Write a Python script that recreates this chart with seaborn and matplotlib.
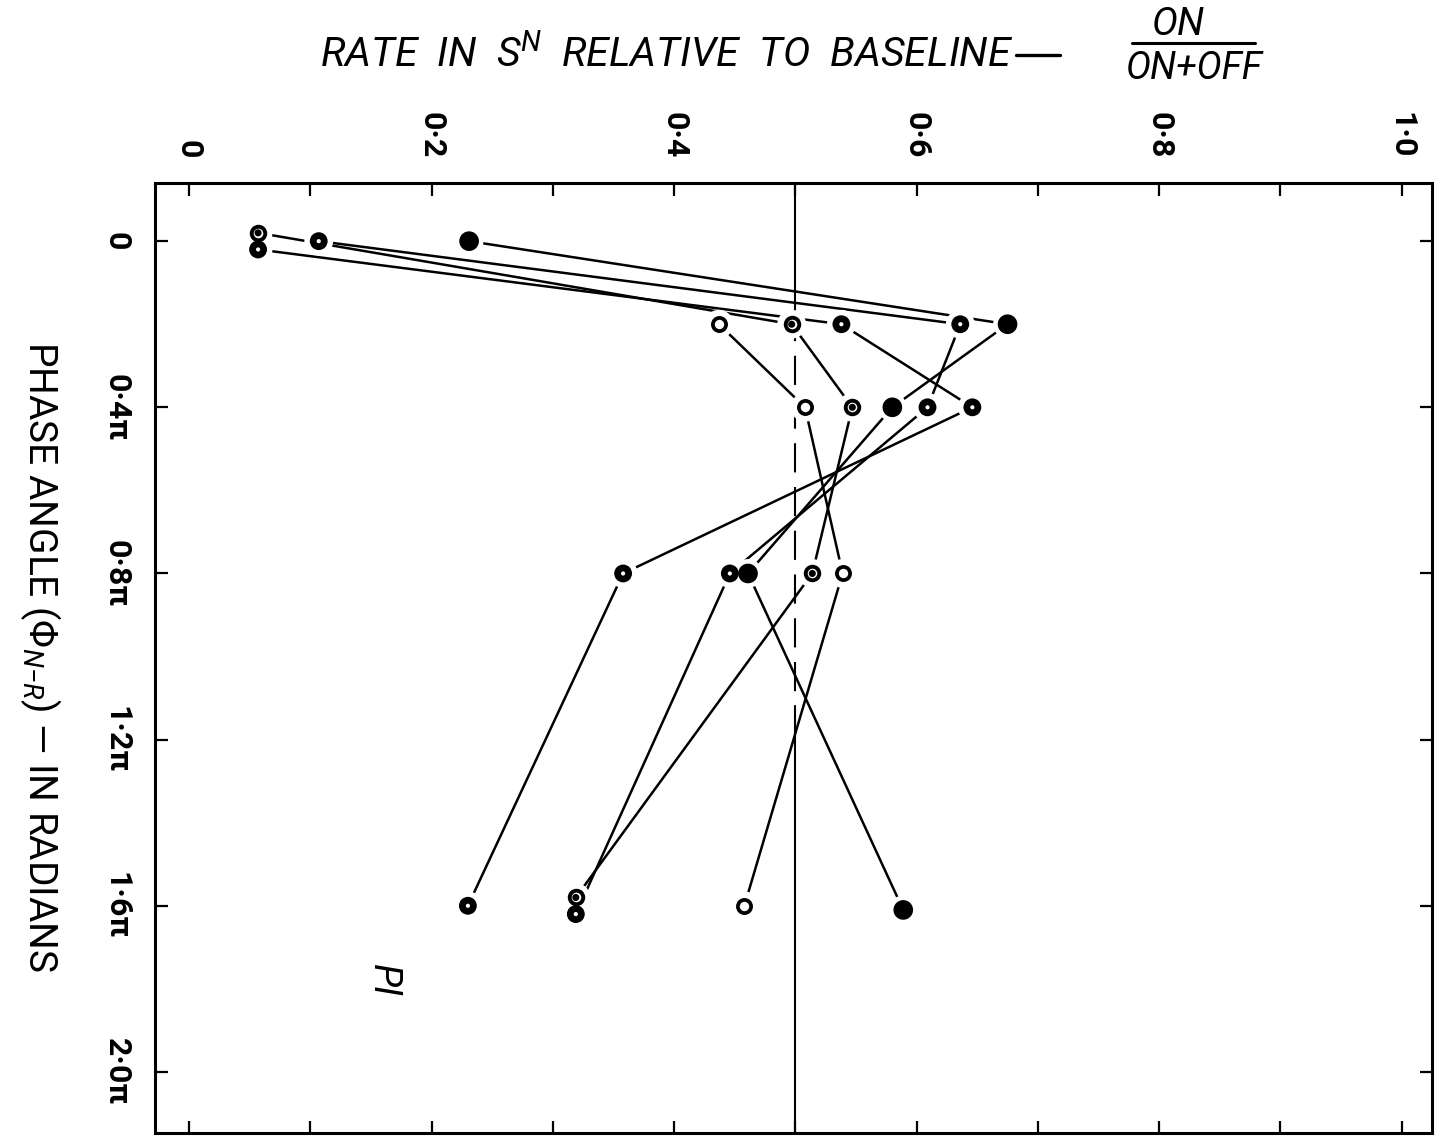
"""
Rate in S^N relative to baseline vs. N-R phase angle (rotated plate, PI).
"""

import numpy as np
import pandas as pd
import matplotlib
matplotlib.use("Agg")
import matplotlib.pyplot as plt
from matplotlib.lines import Line2D
import seaborn as sns

sns.set_theme(style="white")
plt.rcParams["font.family"] = ["Roboto", "DejaVu Sans"]
plt.rcParams["mathtext.fontset"] = "custom"
plt.rcParams["mathtext.rm"] = "Roboto"
plt.rcParams["mathtext.it"] = "Roboto:italic"
plt.rcParams["text.color"] = "black"
plt.rcParams["xtick.color"] = "black"
plt.rcParams["ytick.color"] = "black"

# ---- data (rate = ON / (ON + OFF), phase in units of pi)
phase_ring_dot = [-0.02, 0.2, 0.4, 0.8, 1.58]
rate_ring_dot = [0.057, 0.497, 0.547, 0.514, 0.319]

phase_black_dot_a = [0.02, 0.2, 0.4, 0.8, 1.6]
rate_black_dot_a = [0.057, 0.538, 0.646, 0.358, 0.230]

phase_black_dot_b = [0.0, 0.2, 0.4, 0.8, 1.62]
rate_black_dot_b = [0.107, 0.636, 0.609, 0.446, 0.319]

phase_filled = [0.0, 0.2, 0.4, 0.8, 1.61]
rate_filled = [0.231, 0.675, 0.580, 0.461, 0.589]

phase_open = [0.2, 0.4, 0.8, 1.6]
rate_open = [0.437, 0.508, 0.539, 0.458]

baseline_rate = 0.5

rate_ticks = [0.0, 0.2, 0.4, 0.6, 0.8, 1.0]
rate_minor = [0.1, 0.3, 0.5, 0.7, 0.9]
rate_tick_labels = ["0", "0·2", "0·4", "0·6", "0·8", "1·0"]
phase_ticks = [0.0, 0.4, 0.8, 1.2, 1.6, 2.0]
phase_tick_labels = ["0", "0·4π", "0·8π", "1·2π", "1·6π", "2·0π"]

series = {
    "ring_dot": (phase_ring_dot, rate_ring_dot),
    "black_dot_a": (phase_black_dot_a, rate_black_dot_a),
    "black_dot_b": (phase_black_dot_b, rate_black_dot_b),
    "filled": (phase_filled, rate_filled),
    "open": (phase_open, rate_open),
}
rows = []
for name, (ph, rt) in series.items():
    for p, r in zip(ph, rt):
        rows.append({"series": name, "phase": p, "rate": r})
df = pd.DataFrame(rows)

W, H = 1441, 1136
fig = plt.figure(figsize=(W / 100, H / 100), dpi=100)
ax = fig.add_axes([155 / W, 3 / H, (1432 - 155) / W, (1133 - 183) / H])

# connecting lines
sns.lineplot(data=df, x="rate", y="phase", hue="series", palette=["black"] * 5,
             estimator=None, sort=False, orient="y", legend=False,
             linewidth=1.8, ax=ax, zorder=2)

# baseline: solid at the ends, broken through the crowded middle
ax.plot([baseline_rate, baseline_rate], [-0.14, 0.17], color="black", lw=1.5, zorder=1)
ax.plot([baseline_rate, baseline_rate], [0.17, 1.12], color="black", lw=1.5,
        dashes=(14, 7), zorder=1)
ax.plot([baseline_rate, baseline_rate], [1.12, 2.2], color="black", lw=1.5, zorder=1)

# white halos so lines stop short of the symbols
sns.scatterplot(data=df, x="rate", y="phase", s=430, color="white",
                edgecolor="none", ax=ax, zorder=3, legend=False)


def pts(name):
    return df[df["series"] == name]


# filled
sns.scatterplot(data=pts("filled"), x="rate", y="phase", s=200, color="black",
                edgecolor="none", ax=ax, zorder=4, legend=False)
# black with white centre
for name in ["black_dot_a", "black_dot_b"]:
    sns.scatterplot(data=pts(name), x="rate", y="phase", s=165, color="black",
                    edgecolor="none", ax=ax, zorder=4, legend=False)
    sns.scatterplot(data=pts(name), x="rate", y="phase", s=9, color="white",
                    edgecolor="none", ax=ax, zorder=5, legend=False)
# ring with black centre
sns.scatterplot(data=pts("ring_dot"), x="rate", y="phase", s=95, color="white",
                edgecolor="black", linewidth=2.8, ax=ax, zorder=4, legend=False)
sns.scatterplot(data=pts("ring_dot"), x="rate", y="phase", s=26, color="black",
                edgecolor="none", ax=ax, zorder=5, legend=False)
# open
sns.scatterplot(data=pts("open"), x="rate", y="phase", s=90, color="white",
                edgecolor="black", linewidth=2.7, ax=ax, zorder=4, legend=False)

ax.set_xlim(-0.028, 1.025)
ax.set_ylim(2.147, -0.14)
ax.set_xlabel("")
ax.set_ylabel("")

ax.set_xticks(rate_ticks)
ax.set_xticks(rate_minor, minor=True)
ax.set_xticklabels(rate_tick_labels, rotation=-90, fontsize=23, fontweight="bold")
ax.tick_params(axis="x", which="both", direction="in", top=True, bottom=True,
               labeltop=True, labelbottom=False, length=9, width=1.6, pad=18)

ax.set_yticks(phase_ticks)
ax.set_yticklabels(phase_tick_labels, rotation=-90, fontsize=23,
                   fontweight="bold", va="center")
ax.tick_params(axis="y", which="both", direction="in", left=True, right=True,
               labelleft=True, labelright=False, length=9, width=1.6, pad=17)

for sp in ax.spines.values():
    sp.set_linewidth(2.2)
    sp.set_color("black")

ax.text(0.160, 1.78, "PI", rotation=-90, style="italic", fontsize=27,
        ha="center", va="center")

# axis titles
fig.text(320 / W, 1 - 67 / H, r"RATE  IN  S$^{N}$  RELATIVE  TO  BASELINE",
         style="italic", fontsize=29.5, ha="left", va="baseline")
fig.add_artist(Line2D([1016 / W, 1060 / W], [1 - 55 / H, 1 - 55 / H],
                      color="black", lw=2.4))
fig.text(1178 / W, 1 - 35 / H, "ON", style="italic", fontsize=28,
         ha="center", va="baseline")
fig.add_artist(Line2D([1132 / W, 1255 / W], [1 - 43 / H, 1 - 43 / H],
                      color="black", lw=2.2))
fig.text(1194 / W, 1 - 79 / H, "ON+OFF", style="italic", fontsize=27,
         ha="center", va="baseline")

fig.text(40 / W, 1 - 657 / H,
         r"PHASE ANGLE ($\Phi_{N\mathrm{-}R}$) — IN RADIANS",
         rotation=-90, fontsize=28, ha="center", va="center")

fig.savefig("out.png", dpi=100)
